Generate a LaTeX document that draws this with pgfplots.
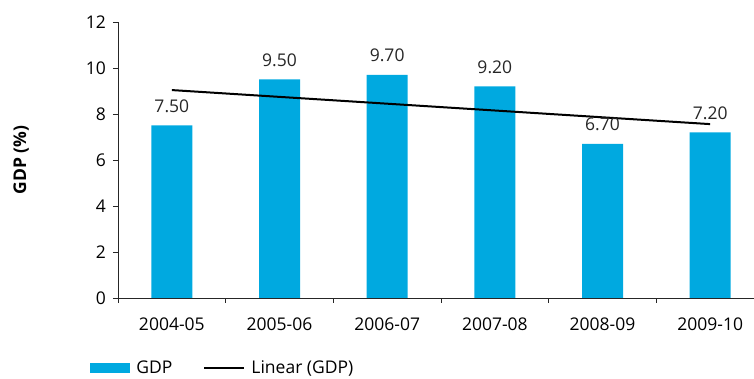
\documentclass[border=0pt]{standalone}
\usepackage{pgfplots}
\pgfplotsset{compat=1.18}
\usepackage{fontspec}
\setmainfont{Open Sans}
\definecolor{barblue}{HTML}{00A9E0}
\begin{document}
\fontsize{17.5}{20}\selectfont
\begin{tikzpicture}[x=1pt,y=1pt,font=\fontsize{17.5}{20}\selectfont]
\path[use as bounding box] (0,0) rectangle (754,379);
\begin{axis}[
  at={(118pt,81pt)}, anchor=south west,
  scale only axis, width=646pt, height=276pt,
  xmin=-0.5, xmax=5.5, ymin=0, ymax=12,
  axis lines=left,
  axis line style={-, draw=black!85, line width=0.9pt},
  ytick={0,2,...,12},
  xtick={0,...,5},
  xticklabels={2004-05,2005-06,2006-07,2007-08,2008-09,2009-10},
  major x tick style={draw=none},
  minor xtick={-0.5,0.5,...,5.5},
  minor tick length=5pt,
  major tick length=5pt,
  tick align=outside,
  tick style={black!85, line width=0.8pt},
  y tick label style={xshift=-1pt},
  x tick label style={yshift=-9pt},
  /pgf/number format/assume math mode=true,
  ylabel={\textbf{GDP (\%)}},
  ylabel style={at={(axis description cs:-0.150,0.5)}, anchor=center},
  legend style={at={(axis description cs:-0.043,-0.254)}, anchor=west, draw=none, fill=none, inner sep=0pt,
    /tikz/every even column/.append style={column sep=25pt},
    nodes={inner xsep=6pt}},
  legend columns=2,
  clip=false,
]
\addplot[ybar, bar width=41pt, fill=barblue, draw=none,
  nodes near coords={\pgfmathprintnumber[fixed,fixed zerofill,precision=2]{\pgfplotspointmeta}},
  every node near coord/.append style={yshift=7pt, black!85},
  legend image code/.code={\fill[barblue] (0pt,-5pt) rectangle (40pt,5pt);}
] coordinates {(0,7.5) (1,9.5) (2,9.7) (3,9.2) (4,6.7) (5,7.2)};
\addlegendentry{GDP}
\addplot[black, line width=2pt, no marks,
  legend image code/.code={\draw[black, line width=2pt] (0pt,0pt) -- (40pt,0pt);}
] coordinates {(0,9.04) (5,7.56)};
\addlegendentry{Linear (GDP)}
\end{axis}
\end{tikzpicture}
\end{document}
